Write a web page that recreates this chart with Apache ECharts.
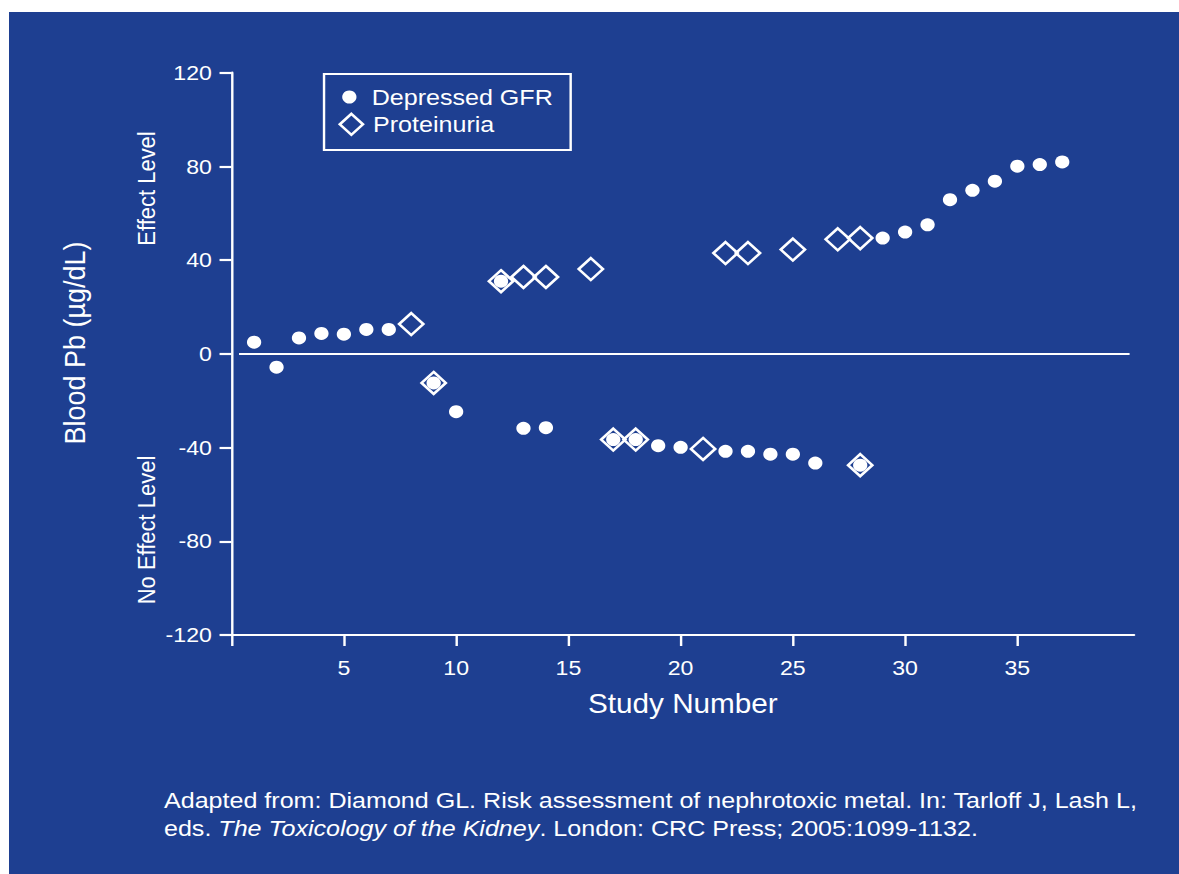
<!DOCTYPE html>
<html><head><meta charset="utf-8">
<script src="https://cdn.jsdelivr.net/npm/echarts@6/dist/echarts.min.js"></script>
<style>
html,body{margin:0;padding:0;background:#fff;width:1179px;height:874px;overflow:hidden;}
#chart{position:absolute;left:9px;top:12px;width:1063.6px;height:862px;transform:scaleX(1.1);transform-origin:0 0;}
</style></head><body><div id="chart"></div>
<script>
// Depressed GFR (filled circles)
const gfrStudy = [1,2,3,4,5,6,7,9,10,12,13,14,17,18,19,20,22,23,24,25,26,28,29,30,31,32,33,34,35,36,37];
const gfrPb = [5.0,-5.7,6.8,8.7,8.4,10.4,10.4,-12.4,-24.7,31.0,-31.8,-31.5,-36.6,-36.6,-39.2,-39.9,-41.6,-41.6,-42.8,-42.8,-46.6,-47.5,49.4,52.0,55.1,65.8,69.8,73.7,80.1,80.8,81.9];
// Proteinuria (open diamonds)
const protStudy = [8,9,12,13,14,16,17,18,21,22,23,25,27,28,28];
const protPb = [12.7,-12.4,31.0,32.8,32.8,36.2,-36.6,-36.6,-40.6,43.0,43.0,44.5,48.9,49.4,-47.5];
// axes
const xTickValues = [0,5,10,15,20,25,30,35];
const xLabelValues = [5,10,15,20,25,30,35];
const yTickValues = [-120,-80,-40,0,40,80,120];
const seriesNames = ['Depressed GFR','Proteinuria'];
const xTitle = 'Study Number';
const yTitle = 'Blood Pb (\u00b5g/dL)';
const upperNote = 'Effect Level';
const lowerNote = 'No Effect Level';
const sourceLine1 = 'Adapted from: Diamond GL. Risk assessment of nephrotoxic metal. In: Tarloff J, Lash L,';
const sourceLine2a = 'eds. ';
const sourceLine2b = 'The Toxicology of the Kidney';
const sourceLine2c = '. London: CRC Press; 2005:1099-1132.';

const FONT = '"Liberation Sans", Arial, Helvetica, sans-serif';
const WHITE = '#ffffff';
const BLUE = '#1e3f91';
const NOTE_SIZE = 22.8;

const chart = echarts.init(document.getElementById('chart'), null, {renderer:'svg'});
const zip = (a,b)=>a.map((v,i)=>[v,b[i]]);

chart.setOption({
  backgroundColor: BLUE,
  animation: false,
  textStyle: {fontFamily: FONT, color: WHITE},
  grid: {left: 202.4, top: 60.7, width: 820.4, height: 562.3, containLabel: false, outerBoundsMode: 'none'},
  xAxis: {
    type: 'value', min: 0, max: 40.2, interval: 5,
    name: xTitle, nameLocation: 'middle', nameGap: 55,
    nameTextStyle: {color: WHITE, fontSize: 27, fontFamily: FONT},
    axisLine: {show: true, onZero: false, lineStyle: {color: WHITE, width: 2.2}},
    axisTick: {show: true, inside: false, length: 11, lineStyle: {color: WHITE, width: 2.2}, customValues: xTickValues},
    axisLabel: {show: true, color: WHITE, fontSize: 21, fontFamily: FONT, margin: 22, customValues: xLabelValues},
    splitLine: {show: false}
  },
  yAxis: {
    type: 'value', min: -120, max: 120, interval: 40,
    axisLine: {show: true, onZero: false, lineStyle: {color: WHITE, width: 2.2}},
    axisTick: {show: true, inside: false, length: 11, lineStyle: {color: WHITE, width: 2.2}, customValues: yTickValues},
    axisLabel: {show: true, color: WHITE, fontSize: 21, fontFamily: FONT, margin: 18, customValues: yTickValues},
    splitLine: {show: false}
  },
  legend: [
    {
      data: [seriesNames[0]], orient: 'vertical', left: 302.9, top: 73, padding: 0,
      itemWidth: 13, itemHeight: 13, selectedMode: false,
      itemStyle: {color: WHITE, borderWidth: 0},
      textStyle: {color: WHITE, fontSize: 22.8, fontFamily: FONT, lineHeight: 24, padding: [0,0,0,8.8]}
    },
    {
      data: [seriesNames[1]], orient: 'vertical', left: 299.5, top: 100.3, padding: 0,
      itemWidth: 21, itemHeight: 21, selectedMode: false, icon: 'diamond',
      itemStyle: {color: 'rgba(0,0,0,0)', borderColor: WHITE, borderWidth: 2.5},
      textStyle: {color: WHITE, fontSize: 22.8, fontFamily: FONT, lineHeight: 24, padding: [0,0,0,4.2]}
    }
  ],
  graphic: [
    {type: 'rect', shape: {x: 286.4, y: 62, width: 224.2, height: 76}, style: {fill: 'none', stroke: WHITE, lineWidth: 2.2}, silent: true},
    {type: 'text', x: 59.3, y: 331, rotation: Math.PI/2, silent: true,
      style: {text: yTitle, fill: WHITE, fontSize: 27, fontFamily: FONT, align: 'center', verticalAlign: 'middle'}},
    {type: 'text', x: 124.9, y: 176.5, rotation: Math.PI/2, silent: true,
      style: {text: upperNote, fill: WHITE, fontSize: 22, fontFamily: FONT, align: 'center', verticalAlign: 'middle'}},
    {type: 'text', x: 124.9, y: 518, rotation: Math.PI/2, silent: true,
      style: {text: lowerNote, fill: WHITE, fontSize: 22, fontFamily: FONT, align: 'center', verticalAlign: 'middle'}},
    {type: 'text', x: 140.9, y: 787.5, silent: true,
      style: {text: sourceLine1, fill: WHITE, fontSize: NOTE_SIZE, fontFamily: FONT, align: 'left', verticalAlign: 'middle'}},
    {type: 'text', x: 140.9, y: 816.3, silent: true,
      style: {text: '{n|' + sourceLine2a + '}{i|' + sourceLine2b + '}{n|' + sourceLine2c + '}',
        fill: WHITE, fontSize: NOTE_SIZE, fontFamily: FONT, align: 'left', verticalAlign: 'middle',
        rich: {n: {fill: WHITE, fontSize: NOTE_SIZE, fontFamily: FONT}, i: {fill: WHITE, fontSize: NOTE_SIZE, fontFamily: FONT, fontStyle: 'italic'}}}}
  ],
  series: [
    {
      name: seriesNames[1], type: 'scatter', symbol: 'diamond', symbolSize: 22, z: 2,
      itemStyle: {color: 'rgba(0,0,0,0)', borderColor: WHITE, borderWidth: 2.5, opacity: 1},
      emphasis: {disabled: true},
      data: zip(protStudy, protPb)
    },
    {
      name: seriesNames[0], type: 'scatter', symbol: 'circle', symbolSize: 13, z: 3,
      itemStyle: {color: WHITE, borderWidth: 0, opacity: 1},
      emphasis: {disabled: true},
      data: zip(gfrStudy, gfrPb),
      markLine: {
        silent: true, symbol: ['none','none'], label: {show: false},
        lineStyle: {color: WHITE, width: 2, type: 'solid', opacity: 1},
        emphasis: {disabled: true},
        data: [[{coord: [0.33, 0]}, {coord: [40, 0]}]]
      }
    }
  ]
});
</script></body></html>
